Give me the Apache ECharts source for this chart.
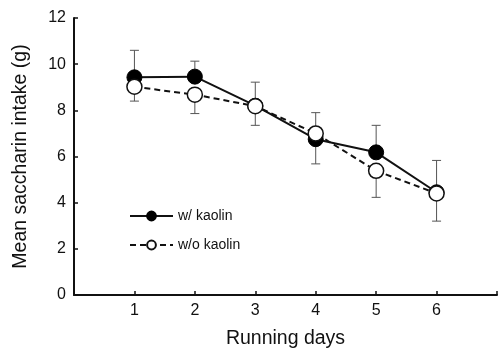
<!DOCTYPE html>
<html>
<head>
<meta charset="utf-8">
<script src="https://cdn.jsdelivr.net/npm/echarts@6/dist/echarts.min.js"></script>
<style>
  html, body { margin: 0; padding: 0; background: #fff; }
  #chart { width: 500px; height: 354px; }
</style>
</head>
<body>
<div id="chart"></div>
<script>
// Running days on the x axis
const days = [1, 2, 3, 4, 5, 6];

// Mean saccharin intake (g) per group
const withKaolin = [9.43, 9.46, 8.2, 6.75, 6.18, 4.45];
const withoutKaolin = [9.02, 8.68, 8.18, 7.0, 5.38, 4.4];

// End value of each one-sided error bar (SEM), drawn from the mean
const withKaolinErrEnd = [10.6, 10.13, 9.22, 5.68, 7.35, 5.83];
const withoutKaolinErrEnd = [8.4, 7.86, 7.35, 7.9, 4.23, 3.2];

// Axis tick labels
const yTicks = [0, 2, 4, 6, 8, 10, 12];

const FONT = 'Liberation Sans, Arial, sans-serif';

function errorData(means, ends) {
  return days.map((d, i) => [d, means[i], ends[i]]);
}

function renderErrorBar(params, api) {
  const x = api.value(0);
  const p0 = api.coord([x, api.value(1)]);
  const p1 = api.coord([x, api.value(2)]);
  const half = 4.5;
  const style = { stroke: '#555', lineWidth: 1 };
  return {
    type: 'group',
    children: [
      { type: 'line', shape: { x1: p0[0], y1: p0[1], x2: p1[0], y2: p1[1] }, style },
      { type: 'line', shape: { x1: p1[0] - half, y1: p1[1], x2: p1[0] + half, y2: p1[1] }, style }
    ]
  };
}

const chart = echarts.init(document.getElementById('chart'), null, { renderer: 'canvas' });

chart.setOption({
  animation: false,
  backgroundColor: '#fff',
  textStyle: { fontFamily: FONT },
  grid: { left: 74, right: -4, top: 18, bottom: 55 },
  legend: {
    orient: 'vertical',
    left: 124,
    top: 204,
    itemWidth: 43,
    itemHeight: 11,
    itemGap: 15,
    textStyle: { fontFamily: FONT, fontSize: 14, color: '#111' },
    data: ['w/ kaolin', 'w/o kaolin']
  },
  xAxis: {
    type: 'value',
    min: 0,
    max: 7,
    interval: 1,
    name: 'Running days',
    nameLocation: 'middle',
    nameGap: 34,
    nameTextStyle: { fontFamily: FONT, fontSize: 19.5, color: '#111' },
    axisLine: { lineStyle: { color: '#111', width: 2 } },
    axisTick: { inside: true, length: 4, lineStyle: { color: '#111', width: 1.5 } },
    axisLabel: {
      fontFamily: FONT, fontSize: 16, color: '#111', margin: 8,
      formatter: v => (days.indexOf(v) >= 0 ? String(v) : '')
    },
    splitLine: { show: false }
  },
  yAxis: {
    type: 'value',
    min: 0,
    max: 12,
    interval: 2,
    name: 'Mean saccharin intake (g)',
    nameLocation: 'middle',
    nameGap: 43,
    nameTextStyle: { fontFamily: FONT, fontSize: 19.5, color: '#111' },
    axisLine: { show: true, lineStyle: { color: '#111', width: 2 } },
    axisTick: { show: true, inside: true, length: 4, lineStyle: { color: '#111', width: 1.5 } },
    axisLabel: {
      fontFamily: FONT, fontSize: 16, color: '#111', margin: 8,
      formatter: v => (yTicks.indexOf(v) >= 0 ? String(v) : '')
    },
    splitLine: { show: false }
  },
  series: [
    {
      name: 'w/ kaolin err',
      type: 'custom',
      renderItem: renderErrorBar,
      data: errorData(withKaolin, withKaolinErrEnd),
      z: 1,
      silent: true
    },
    {
      name: 'w/o kaolin err',
      type: 'custom',
      renderItem: renderErrorBar,
      data: errorData(withoutKaolin, withoutKaolinErrEnd),
      z: 1,
      silent: true
    },
    {
      name: 'w/ kaolin',
      type: 'line',
      data: days.map((d, i) => [d, withKaolin[i]]),
      symbol: 'circle',
      symbolSize: 15,
      lineStyle: { color: '#111', width: 2 },
      itemStyle: { color: '#000', borderColor: '#000', borderWidth: 1 },
      z: 3
    },
    {
      name: 'w/o kaolin',
      type: 'line',
      data: days.map((d, i) => [d, withoutKaolin[i]]),
      symbol: 'circle',
      symbolSize: 15,
      lineStyle: { color: '#111', width: 2, type: [6, 4] },
      itemStyle: { color: '#fff', borderColor: '#111', borderWidth: 1.5 },
      z: 4
    }
  ]
});
</script>
</body>
</html>
